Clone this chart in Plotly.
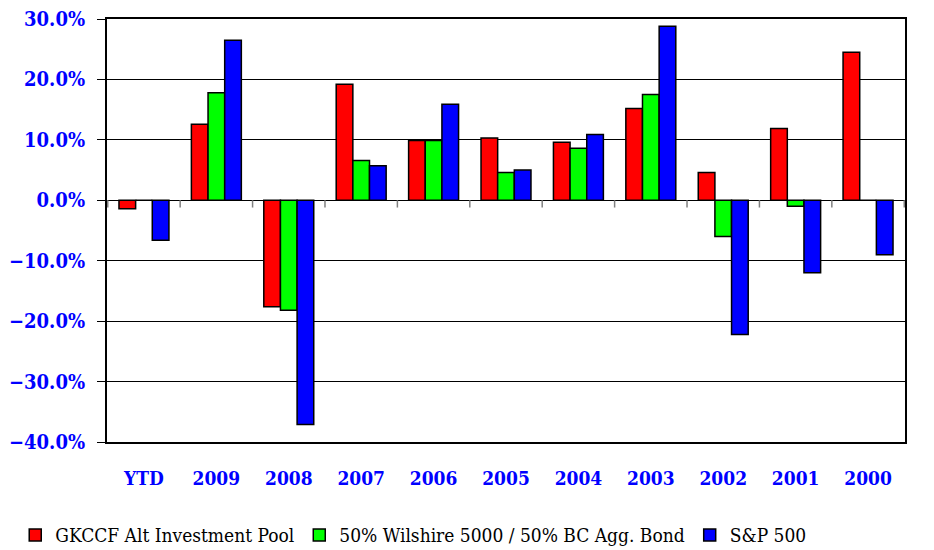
import plotly.graph_objects as go

years = ["YTD", "2009", "2008", "2007", "2006", "2005", "2004", "2003", "2002", "2001", "2000"]
gkccf = [-1.4, 12.6, -17.6, 19.2, 9.9, 10.3, 9.6, 15.2, 4.6, 11.9, 24.5]
wilshire_bond = [0.0, 17.8, -18.2, 6.6, 9.9, 4.6, 8.6, 17.5, -6.0, -1.0, 0.0]
sp500 = [-6.6, 26.5, -37.1, 5.7, 15.9, 5.0, 10.9, 28.8, -22.2, -12.0, -9.0]

series = [
    ("GKCCF Alt Investment Pool", gkccf, "#ff0000"),
    ("50% Wilshire 5000 / 50% BC Agg. Bond", wilshire_bond, "#00ff00"),
    ("S&P 500", sp500, "#0000ff"),
]

serif = "DejaVu Serif Condensed"

fig = go.Figure()
for name, vals, col in series:
    fig.add_trace(go.Bar(x=years, y=vals, name=name,
                         marker=dict(color=col, line=dict(color="black", width=1.5))))

# small tick marks on the zero line between categories
for i in range(len(years) + 1):
    fig.add_shape(type="line", xref="x", yref="y", x0=i - 0.5, x1=i - 0.5, y0=0, y1=-1.2,
                  line=dict(color="#808080", width=1.5))

# page body has an 8px margin, so the figure is a bit smaller than the window
fig.update_layout(
    width=926, height=542,
    margin=dict(l=99, r=29, t=11, b=108, autoexpand=False),
    paper_bgcolor="white", plot_bgcolor="white",
    font=dict(family=serif, color="black"),
    barmode="group", bargap=0.31, bargroupgap=0,
    # legend placed left of and below the plot area so it may use the full width
    legend=dict(orientation="h", x=-0.115, xanchor="left", y=-0.22, yanchor="middle",
                font=dict(size=19, family=serif), itemwidth=30,
                traceorder="normal"),
)
fig.update_xaxes(
    showgrid=False, showline=True, linecolor="black", linewidth=2, mirror=True,
    ticks="", ticklabelstandoff=18,
    tickfont=dict(family=serif, size=19, color="#0000ff", weight="bold"),
)
fig.update_yaxes(
    range=[-40, 30], dtick=10, tickformat=".1f", ticksuffix="%",
    showgrid=True, gridcolor="black", gridwidth=1,
    zeroline=True, zerolinecolor="black", zerolinewidth=1,
    showline=True, linecolor="black", linewidth=2, mirror=True,
    ticks="outside", ticklen=8, tickcolor="black", ticklabelstandoff=8,
    ticklabeloverflow="allow",
    tickfont=dict(family=serif, size=20, color="#0000ff", weight="bold"),
)

fig.write_html("out.html")
